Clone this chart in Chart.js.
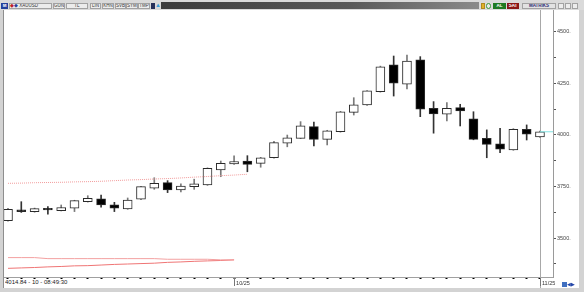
<!DOCTYPE html>
<html>
<head>
<meta charset="utf-8">
<title>XAUUSD</title>
<script src="https://cdn.jsdelivr.net/npm/chart.js@4.4.1/dist/chart.umd.min.js"></script>
<style>
  body { margin: 0; width: 584px; height: 292px; overflow: hidden; position: relative; background: #d3d3d3; font-family: 'Liberation Sans', Arial, sans-serif; }
  .abs { position: absolute; }
  #toolbar { left: 0; top: 0; width: 584px; height: 10px; background: #dadada; }
  .btn { position: absolute; top: 3px; height: 6px; box-sizing: border-box; border: 1px solid #a2a2a2; background: #ececec; color: #333; font-size: 4.5px; line-height: 4px; text-align: center; white-space: nowrap; overflow: hidden; }
  #darkbar { left: 161px; top: 2px; width: 318px; height: 7px; background: linear-gradient(to right, #3c3c3c, #5a5a5a 60%, #8a8a8a); }
  #frame { left: 3px; top: 10px; width: 576px; height: 278px; box-sizing: border-box; border-left: 1px solid #8e8e8e; background: #fff; }
  #chart { position: absolute; left: 0; top: 0; }
  #info { left: 5px; top: 279px; font-size: 6px; line-height: 7px; color: #1a1a1a; background: #fff; padding-right: 2px; }
  #nav { left: 562px; top: 281px; font-size: 5px; line-height: 6px; color: #2446a8; }
</style>
</head>
<body>
<div id="toolbar" class="abs">
  <div class="btn" style="left:1px;width:7px;background:#23419c;color:#fff;border-color:#23419c;font-weight:bold">M</div>
  <div class="btn" style="left:9px;width:43px;text-align:left"><span style="color:#c0202a;font-weight:bold">&#9670;</span><span style="color:#2a3f9a">&#9670;</span> XAUUSD</div>
  <div class="btn" style="left:53px;width:12px">GUN</div>
  <div class="btn" style="left:66px;width:22px">TL</div>
  <div class="btn" style="left:90px;width:11px">LIN</div>
  <div class="btn" style="left:102px;width:12px">KHN</div>
  <div class="btn" style="left:115px;width:11px">SVB</div>
  <div class="btn" style="left:126px;width:12px">SYM</div>
  <div class="btn" style="left:138px;width:12px">TMP</div>
  <div class="btn" style="left:151px;width:4px;background:#26305a;border-color:#26305a"></div>
  <div class="btn" style="left:155px;width:5px;background:#dadada;border:none;color:#3a9ad9;font-size:6px">&#9650;</div>
  <div id="darkbar" class="abs"></div>
  <div class="btn" style="left:481px;width:4px;background:#e2b22a;border-color:#b08a20"></div>
  <div class="btn" style="left:486px;width:5px;background:#e8e8e8;border-color:#3a9a3a;border-radius:3px"></div>
  <div class="btn" style="left:493px;width:13px;background:#1f7a22;border-color:#1f7a22;color:#fff;font-weight:bold">AL</div>
  <div class="btn" style="left:507px;width:12px;background:#8a1616;border-color:#8a1616;color:#fff;font-weight:bold">SAT</div>
  <div class="btn" style="left:522px;width:34px;background:#e2e2e2;color:#2c2c72;font-weight:bold">MATRIKS</div>
  <div class="btn" style="left:558px;width:6px"></div>
  <div class="btn" style="left:565px;width:6px"></div>
  <div class="btn" style="left:572px;width:6px"></div>
</div>
<div id="frame" class="abs">
  <canvas id="chart" width="575" height="278"></canvas>
</div>
<div id="info" class="abs">4014.84 - 10 - 08:49:30</div>
<div id="nav" class="abs"><span style="display:inline-block;width:5px;height:5px;background:#3f6fc0;vertical-align:middle"></span>&#9664;&#9654;</div>
<script>
const opens = [3584, 3636, 3628, 3644, 3633, 3644, 3676, 3690, 3661, 3641, 3688, 3742, 3768, 3733, 3749, 3757, 3830, 3859, 3873, 3862, 3889, 3959, 3983, 4040, 3978, 4015, 4109, 4145, 4209, 4339, 4245, 4363, 4129, 4100, 4132, 4077, 3983, 3956, 3927, 4027, 3990]
const highs = [3644, 3676, 3645, 3652, 3660, 3683, 3705, 3708, 3673, 3694, 3750, 3792, 3778, 3762, 3785, 3840, 3873, 3898, 3899, 3891, 3969, 3999, 4064, 4062, 4022, 4114, 4180, 4215, 4333, 4382, 4387, 4379, 4161, 4156, 4148, 4112, 4024, 4032, 4030, 4048, 4018]
const lows = [3582, 3624, 3625, 3616, 3631, 3628, 3674, 3649, 3628, 3639, 3686, 3736, 3720, 3723, 3736, 3755, 3797, 3857, 3821, 3843, 3887, 3942, 3982, 3946, 3951, 4013, 4096, 4143, 4207, 4188, 4222, 4088, 4008, 4067, 4043, 3976, 3889, 3913, 3925, 3975, 3988]
const closes = [3639, 3628, 3642, 3636, 3648, 3681, 3692, 3660, 3644, 3684, 3749, 3765, 3733, 3752, 3762, 3838, 3862, 3870, 3857, 3889, 3962, 3986, 4044, 3978, 4019, 4112, 4145, 4213, 4330, 4250, 4358, 4124, 4101, 4129, 4116, 3978, 3954, 3930, 4027, 4003, 4015]

// indicator lines, only drawn over the first candles
const dottedLine = [3765, 3766, 3768, 3769, 3770, 3772, 3773, 3775, 3778, 3781, 3783, 3786, 3788, 3791, 3795, 3798, 3802, 3805, 3809]
const bandUpper = [3405, 3405, 3405, 3400, 3400, 3400, 3400, 3400, 3400, 3400, 3400, 3400, 3397, 3397, 3397, 3397, 3394, 3394]
const bandLower = [3353, 3355, 3357, 3360, 3362, 3365, 3366, 3369, 3372, 3374, 3376, 3378, 3382, 3384, 3387, 3389, 3391, 3394]
const lastPrice = 4014.84

const xLabelIdx = [17, 40]
const xLabelText = ['10/25', '11/25']
const yTickValues = [3375, 3500, 3625, 3750, 3875, 4000, 4125, 4250, 4375, 4500]
const yLabelValues = [3500, 3750, 4000, 4250, 4500]

const idx = opens.map((_, i) => i)
const up = idx.map(i => closes[i] >= opens[i])
const lastIdx = idx[idx.length - 1]

Chart.defaults.font.family = "'Liberation Sans', Arial, sans-serif"

const line = (vals, color, dash) => ({
  type: 'line',
  data: vals.map((v, i) => ({ x: i, y: v })),
  borderColor: color,
  borderWidth: 1,
  borderDash: dash || [],
  pointRadius: 0,
  fill: false,
  tension: 0,
  order: 0
})

const cursorLine = {
  id: 'cursorLine',
  beforeDatasetsDraw(chart) {
    const ctx = chart.ctx
    const xs = chart.scales.x
    const bottom = chart.chartArea.bottom
    ctx.save()
    ctx.lineWidth = 1
    ctx.strokeStyle = '#a8a8a8'
    let x = Math.round(xs.getPixelForValue(lastIdx)) + 0.5
    ctx.beginPath()
    ctx.moveTo(x, 0)
    ctx.lineTo(x, chart.height)
    ctx.stroke()
    ctx.strokeStyle = '#777'
    xLabelIdx.forEach(i => {
      x = Math.round(xs.getPixelForValue(i)) + 0.5
      ctx.beginPath()
      ctx.moveTo(x, bottom + 1)
      ctx.lineTo(x, bottom + 9)
      ctx.stroke()
    })
    ctx.restore()
  }
}

const chart = new Chart(document.getElementById('chart'), {
  type: 'bar',
  data: {
    datasets: [
      {
        type: 'bar',
        data: idx.map(i => ({ x: i, y: [Math.min(opens[i], closes[i]), Math.max(opens[i], closes[i])] })),
        backgroundColor: idx.map(i => up[i] ? '#ffffff' : '#000000'),
        borderColor: '#2a2a2a',
        borderWidth: 1,
        borderSkipped: false,
        barThickness: 9,
        grouped: false,
        order: 1
      },
      {
        type: 'bar',
        data: idx.map(i => ({ x: i, y: [lows[i], highs[i]] })),
        backgroundColor: idx.map(i => up[i] ? '#7a7a7a' : '#333333'),
        borderWidth: 0,
        barThickness: 1,
        grouped: false,
        order: 2
      },
      line(dottedLine, '#f19a9a', [1, 1]),
      line(bandUpper, '#f3a0a0'),
      line(bandLower, '#ef7474'),
      {
        type: 'line',
        data: [{ x: lastIdx, y: lastPrice }, { x: lastIdx + 1, y: lastPrice }],
        borderColor: '#7fe3e3',
        borderWidth: 1,
        pointRadius: 0,
        order: 0
      }
    ]
  },
  options: {
    responsive: false,
    animation: false,
    devicePixelRatio: 1,
    layout: { padding: 0 },
    plugins: { legend: { display: false }, tooltip: { enabled: false } },
    scales: {
      x: {
        type: 'linear',
        min: -0.3,
        max: 40.98,
        offset: false,
        grid: { drawOnChartArea: false, offset: false, tickLength: 2, tickColor: '#000', tickWidth: 2 },
        border: { color: '#a0a0a0' },
        ticks: {
          autoSkip: false, maxRotation: 0, minRotation: 0, align: 'start', labelOffset: 2, padding: 1,
          color: '#333', font: { size: 5.5 },
          callback: v => {
            const k = xLabelIdx.indexOf(v)
            return k < 0 ? '' : xLabelText[k]
          }
        },
        afterBuildTicks: s => { s.ticks = idx.map(v => ({ value: v })) },
        afterFit: s => { s.height = 11; s.paddingLeft = 0; s.paddingRight = 0 }
      },
      y: {
        position: 'right',
        min: 3311,
        max: 4605,
        grid: { drawOnChartArea: false, tickLength: 3, tickColor: '#555' },
        border: { color: '#9a9a9a' },
        ticks: {
          padding: 1, color: '#444', font: { size: 5.5 },
          callback: v => yLabelValues.includes(v) ? v + '.' : ''
        },
        afterBuildTicks: s => { s.ticks = yTickValues.map(v => ({ value: v })) },
        afterFit: s => { s.width = 26; s.paddingTop = 0; s.paddingBottom = 0 }
      }
    }
  },
  plugins: [cursorLine]
})
</script>
</body>
</html>
